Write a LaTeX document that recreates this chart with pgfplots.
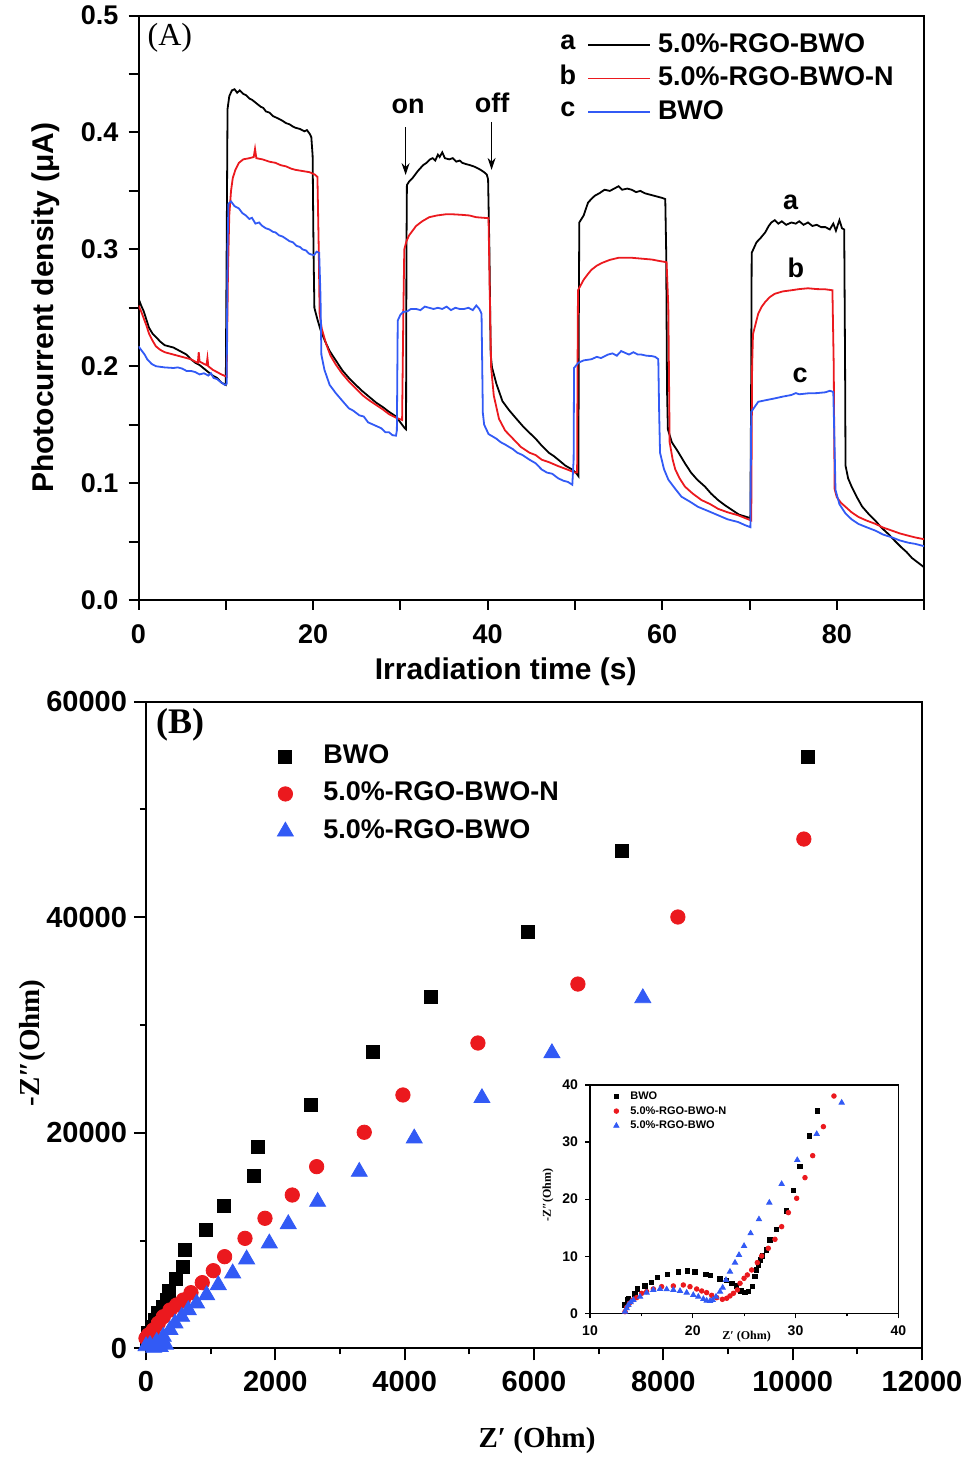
\documentclass[border=0pt]{standalone}
\usepackage{pgfplots}
\pgfplotsset{compat=1.18}
\usetikzlibrary{arrows.meta}
\usepackage{fontspec}
\setmainfont{Liberation Sans}
\newfontfamily\tnr{Liberation Serif}
\definecolor{cred}{RGB}{235,25,30}
\definecolor{cblue}{RGB}{50,90,245}
\newcommand{\fs}[1]{\fontsize{#1}{#1}\selectfont}
\pgfplotsset{
 legB/.style={legend image code/.code={\path[draw=none,fill=none] (0pt,-2pt) rectangle (16pt,2pt); \draw[##1] plot coordinates {(8pt,0pt)};}},
 legI/.style={legend image code/.code={\path[draw=none,fill=none] (0pt,-1pt) rectangle (5pt,1pt); \draw[##1] plot coordinates {(2.5pt,0pt)};}},
}
\begin{document}
\begin{tikzpicture}
\path[use as bounding box] (0pt,0pt) rectangle (481.5pt,732pt);
% ---------------- Panel A ----------------
\begin{axis}[
 at={(69.25pt,432pt)}, anchor=south west, scale only axis,
 width=392.8pt, height=292.2pt,
 xmin=0, xmax=90, ymin=0, ymax=0.5,
 axis line style={line width=1pt},
 tick align=outside, tick pos=left,
 major tick length=5pt, tick style={line width=1pt, black},
 xtick={0,10,...,90}, xticklabels={0,,20,,40,,60,,80,},
 ytick={0,0.05,0.1,0.15,0.2,0.25,0.3,0.35,0.4,0.45,0.5},
 yticklabels={0.0,,0.1,,0.2,,0.3,,0.4,,0.5},
 ticklabel style={font=\bfseries\fs{13.5}},
 xticklabel style={yshift=-4pt},
 yticklabel style={xshift=-1.5pt},
 xlabel={Irradiation time (s)}, ylabel={Photocurrent density (μA)},
 label style={font=\bfseries\fs{15}},
 xlabel style={at={(axis description cs:0.4675,-0.123)},anchor=center},
 ylabel style={at={(axis description cs:-0.118,0.5)},anchor=center},
 legend image code/.code={\draw[#1] (0pt,0pt) -- (31pt,0pt);},
 legend cell align=left,
 legend style={at={(axis cs:51.36,0.4854)}, anchor=north west, draw=none, fill=none,
   font=\bfseries\fs{13.5}, inner sep=0pt, row sep=4.75pt,
   nodes={inner sep=0pt, text height=9.5pt, text depth=2.5pt},
   /tikz/every odd column/.append style={column sep=3.5pt}},
]
\addplot[black, line width=0.9pt] coordinates {
(0,0.258)(0.3,0.252)(0.6,0.247)(0.9,0.240)(1.2,0.233)(1.6,0.228)(2.0,0.225)(2.5,0.221)(3.0,0.218)(3.5,0.217)(4.0,0.216)(4.5,0.214)(5.0,0.212)(5.5,0.210)(6.0,0.206)(6.5,0.203)(7.0,0.201)(7.5,0.198)(8.0,0.195)(8.5,0.192)(9.0,0.190)(9.5,0.186)(10.0,0.184)
(10.1,0.30)(10.2,0.42)(10.4,0.431)(10.7,0.436)(11.0,0.437)(11.3,0.434)(11.6,0.436)(12.0,0.433)(12.3,0.432)(12.7,0.429)(13.0,0.428)(13.5,0.425)(14.0,0.422)(14.3,0.421)(14.6,0.418)(15.0,0.417)(15.4,0.414)(15.7,0.413)(16.0,0.412)(16.5,0.410)(16.9,0.408)(17.3,0.407)(17.7,0.405)(18.0,0.404)(18.5,0.403)(19.0,0.401)(19.3,0.402)(19.6,0.399)(19.8,0.396)
(19.95,0.38)(20.05,0.30)(20.15,0.250)(20.5,0.240)(20.9,0.230)(21.4,0.221)(21.9,0.213)(22.6,0.205)(23.4,0.196)(24.1,0.190)(24.9,0.184)(25.6,0.179)(26.4,0.174)(27.2,0.169)(28.0,0.165)(28.7,0.161)(29.5,0.157)(30.0,0.152)(30.5,0.147)(30.65,0.146)
(30.7,0.30)(30.75,0.355)(31.0,0.358)(31.4,0.361)(32.0,0.367)(32.6,0.372)(33.0,0.374)(33.4,0.377)(33.7,0.378)(34.0,0.376)(34.3,0.381)(34.5,0.379)(34.8,0.383)(35.1,0.378)(35.6,0.377)(36.0,0.378)(36.4,0.375)(36.8,0.376)(37.1,0.374)(37.5,0.373)(38.0,0.372)(38.4,0.371)(38.7,0.370)(39.2,0.368)(39.6,0.366)(39.9,0.364)
(40.05,0.36)(40.2,0.30)(40.35,0.21)(40.5,0.199)(41.0,0.185)(41.7,0.170)(42.5,0.162)(43.3,0.155)(44.0,0.149)(44.8,0.143)(45.5,0.138)(46.2,0.132)(47.0,0.126)(47.6,0.123)(48.1,0.120)(48.9,0.115)(49.6,0.112)(50.1,0.109)(50.4,0.106)
(50.45,0.25)(50.5,0.323)(51.0,0.329)(51.5,0.340)(52.0,0.344)(52.3,0.346)(52.8,0.348)(53.4,0.351)(54.0,0.350)(54.5,0.352)(55.0,0.354)(55.4,0.351)(56.0,0.352)(56.5,0.351)(57.0,0.349)(57.5,0.350)(58.0,0.348)(58.5,0.347)(59.0,0.346)(59.5,0.345)(60.0,0.344)(60.35,0.343)
(60.45,0.30)(60.55,0.18)(60.65,0.146)(61.1,0.135)(61.8,0.127)(62.6,0.117)(63.3,0.109)(64.0,0.103)(64.9,0.097)(65.6,0.091)(66.4,0.0855)(67.2,0.081)(68.0,0.077)(68.8,0.073)(69.7,0.071)(70.1,0.070)
(70.2,0.20)(70.25,0.297)(70.8,0.306)(71.3,0.310)(71.8,0.3145)(72.2,0.320)(72.5,0.323)(72.9,0.325)(73.3,0.322)(73.7,0.324)(74.2,0.321)(74.8,0.323)(75.3,0.322)(75.7,0.324)(76.2,0.321)(76.7,0.323)(77.2,0.320)(77.7,0.321)(78.2,0.319)(78.7,0.319)(79.2,0.317)(79.6,0.322)(79.9,0.316)(80.3,0.325)(80.6,0.318)(80.85,0.317)
(80.95,0.20)(81.0,0.115)(81.3,0.104)(81.7,0.097)(82.3,0.088)(82.9,0.080)(83.6,0.074)(84.4,0.068)(85.1,0.062)(85.9,0.0565)(86.6,0.051)(87.4,0.045)(88.0,0.041)(88.6,0.036)(89.3,0.032)(90.0,0.028)
};
\addlegendentry{5.0\%-RGO-BWO}
\addplot[cred, line width=0.9pt] coordinates {
(0,0.252)(0.3,0.247)(0.6,0.241)(0.9,0.235)(1.2,0.228)(1.6,0.222)(2.0,0.217)(2.5,0.214)(3.0,0.212)(3.5,0.211)(4.0,0.210)(4.5,0.209)(5.0,0.208)(5.5,0.207)(6.0,0.206)(6.5,0.204)(6.8,0.203)(6.9,0.212)(7.0,0.204)(7.5,0.202)(7.8,0.201)(7.9,0.207)(8.0,0.200)(8.5,0.197)(9.0,0.195)(9.5,0.193)(10.1,0.191)
(10.25,0.28)(10.4,0.329)(10.6,0.350)(10.8,0.361)(11.1,0.368)(11.5,0.374)(12.0,0.377)(12.7,0.378)(13.2,0.379)(13.35,0.386)(13.5,0.378)(14.2,0.377)(15.0,0.375)(15.7,0.374)(16.3,0.372)(16.9,0.371)(17.5,0.369)(18.0,0.368)(18.8,0.367)(19.6,0.366)(20.2,0.364)(20.5,0.362)
(20.65,0.30)(20.75,0.245)(21.0,0.232)(21.5,0.219)(22.0,0.209)(22.6,0.2015)(23.3,0.194)(24.1,0.187)(24.9,0.181)(25.7,0.175)(26.4,0.171)(27.2,0.167)(28.0,0.163)(28.7,0.159)(29.5,0.156)(30.2,0.154)
(30.35,0.25)(30.45,0.300)(30.7,0.307)(31.0,0.312)(31.4,0.316)(31.8,0.320)(32.5,0.324)(33.3,0.3275)(34.2,0.329)(35.2,0.330)(36.0,0.330)(37.1,0.3295)(37.9,0.329)(38.7,0.3275)(39.5,0.327)(40.1,0.3267)
(40.25,0.26)(40.4,0.199)(40.7,0.175)(41.3,0.155)(42.0,0.145)(42.9,0.138)(43.8,0.131)(44.8,0.126)(45.5,0.124)(46.2,0.120)(47.0,0.118)(48.1,0.1145)(49.0,0.112)(50.0,0.109)(50.25,0.109)
(50.3,0.20)(50.35,0.265)(51.0,0.274)(51.5,0.279)(51.9,0.2826)(52.5,0.286)(53.1,0.2884)(54.0,0.291)(55.0,0.2928)(56.5,0.2928)(57.7,0.292)(58.8,0.2913)(59.7,0.290)(60.5,0.289)
(60.7,0.25)(60.85,0.135)(61.2,0.120)(61.5,0.1116)(62.0,0.104)(62.6,0.097)(63.5,0.091)(64.5,0.0855)(65.5,0.082)(66.4,0.078)(67.5,0.075)(68.7,0.0725)(70.2,0.068)
(70.3,0.20)(70.4,0.2275)(71.0,0.245)(71.4,0.251)(71.8,0.255)(72.3,0.259)(72.9,0.262)(73.8,0.264)(74.8,0.265)(75.7,0.266)(76.7,0.2667)(77.7,0.266)(78.7,0.2658)(79.5,0.265)
(79.65,0.20)(79.75,0.095)(80.0,0.088)(80.5,0.083)(81.0,0.0797)(81.7,0.075)(82.5,0.071)(83.4,0.068)(84.4,0.0652)(85.3,0.062)(86.3,0.0594)(87.2,0.057)(88.2,0.055)(89.0,0.0535)(90.0,0.052)
};
\addlegendentry{5.0\%-RGO-BWO-N}
\addplot[cblue, line width=0.9pt] coordinates {
(0,0.217)(0.3,0.214)(0.7,0.210)(1.0,0.206)(1.5,0.202)(2.0,0.200)(3.0,0.199)(4.0,0.1985)(4.5,0.199)(5.0,0.198)(5.5,0.196)(6.0,0.196)(6.5,0.195)(7.0,0.193)(7.5,0.194)(8.0,0.192)(8.3,0.194)(8.6,0.190)(9.0,0.189)(9.5,0.186)(9.9,0.184)(10.1,0.185)
(10.2,0.30)(10.3,0.339)(10.6,0.341)(11.0,0.337)(11.5,0.335)(11.9,0.331)(12.3,0.329)(12.7,0.326)(13.0,0.327)(13.4,0.322)(13.8,0.323)(14.2,0.320)(14.6,0.318)(15.0,0.317)(15.4,0.315)(15.7,0.3145)(16.1,0.312)(16.5,0.311)(16.9,0.309)(17.3,0.307)(17.7,0.306)(18.1,0.303)(18.5,0.302)(18.8,0.300)(19.2,0.299)(19.5,0.2965)(19.75,0.2957)(20.1,0.295)(20.4,0.298)(20.7,0.297)
(20.85,0.26)(20.95,0.210)(21.3,0.197)(21.9,0.184)(22.6,0.177)(23.4,0.170)(24.1,0.164)(24.6,0.162)(25.3,0.158)(25.8,0.157)(26.3,0.152)(27.2,0.149)(27.8,0.147)(28.3,0.1435)(28.7,0.1435)(29.1,0.141)(29.5,0.1406)(29.6,0.145)
(29.7,0.239)(30.0,0.244)(30.3,0.2464)(30.8,0.247)(31.2,0.249)(31.8,0.249)(32.3,0.248)(32.8,0.251)(33.3,0.250)(33.8,0.249)(34.3,0.250)(34.8,0.249)(35.3,0.251)(35.8,0.248)(36.3,0.250)(36.8,0.249)(37.3,0.249)(37.8,0.250)(38.3,0.248)(38.7,0.252)(39.05,0.249)(39.3,0.245)
(39.45,0.16)(39.6,0.150)(40.1,0.142)(41.0,0.138)(41.5,0.135)(42.0,0.133)(42.9,0.129)(43.4,0.126)(44.0,0.124)(44.8,0.120)(45.5,0.117)(46.2,0.1116)(46.8,0.109)(47.4,0.108)(48.1,0.104)(48.7,0.102)(49.2,0.101)(49.7,0.0986)
(49.85,0.12)(49.9,0.1986)(50.4,0.203)(51.0,0.205)(51.9,0.206)(52.5,0.208)(53.0,0.207)(53.8,0.210)(54.3,0.211)(54.8,0.209)(55.3,0.213)(55.7,0.2116)(56.2,0.210)(56.7,0.212)(57.2,0.210)(57.6,0.210)(58.2,0.209)(58.8,0.2087)(59.2,0.208)(59.55,0.206)
(59.65,0.16)(59.75,0.126)(60.2,0.112)(60.7,0.103)(61.4,0.096)(62.2,0.0884)(63.2,0.084)(64.1,0.0797)(65.3,0.076)(66.4,0.0725)(67.5,0.069)(68.7,0.0667)(69.5,0.064)(70.1,0.0623)
(70.2,0.161)(71.0,0.1696)(71.9,0.171)(72.9,0.1725)(73.8,0.174)(74.8,0.1754)(75.3,0.177)(75.7,0.176)(76.7,0.1768)(77.7,0.177)(78.7,0.1777)(79.2,0.179)(79.6,0.178)
(79.75,0.13)(79.85,0.0942)(80.3,0.082)(81.0,0.074)(81.7,0.069)(82.5,0.065)(83.5,0.062)(84.4,0.0594)(85.3,0.056)(86.3,0.0536)(87.2,0.051)(88.2,0.049)(89.0,0.048)(90.0,0.046)
};
\addlegendentry{BWO}
\node[font=\tnr\fs{16}] at (axis cs:3.6,0.4808) {(A)};
\node[font=\bfseries\fs{13.5}] at (axis cs:49.2,0.4774) {a};
\node[font=\bfseries\fs{13.5}] at (axis cs:49.2,0.4492) {b};
\node[font=\bfseries\fs{13.5}] at (axis cs:49.2,0.4201) {c};
\node[font=\bfseries\fs{13.5}] at (axis cs:30.9,0.4226) {on};
\node[font=\bfseries\fs{13.5}] at (axis cs:40.5,0.425) {off};
\draw[-{Stealth[length=6pt,width=4pt]}, line width=0.6pt] (axis cs:30.6,0.4046) -- (axis cs:30.6,0.3636);
\draw[-{Stealth[length=6pt,width=4pt]}, line width=0.6pt] (axis cs:40.45,0.409) -- (axis cs:40.45,0.368);
\node[font=\bfseries\fs{13.5}] at (axis cs:74.7,0.3405) {a};
\node[font=\bfseries\fs{13.5}] at (axis cs:75.3,0.284) {b};
\node[font=\bfseries\fs{13.5}] at (axis cs:75.8,0.1925) {c};
\end{axis}
% ---------------- Panel B ----------------
\begin{axis}[
 at={(73pt,57.85pt)}, anchor=south west, scale only axis,
 width=388pt, height=323.4pt,
 xmin=0, xmax=12000, ymin=0, ymax=60000,
 scaled ticks=false,
 axis line style={line width=1pt},
 tick align=outside, tick pos=left,
 major tick length=6pt, minor tick length=3pt, tick style={line width=1pt, black},
 xtick={0,2000,4000,6000,8000,10000,12000}, xticklabels={0,2000,4000,6000,8000,10000,12000},
 ytick={0,20000,40000,60000}, yticklabels={0,20000,40000,60000},
 minor x tick num=1, minor y tick num=1,
 ticklabel style={font=\bfseries\fs{14.5}},
 xticklabel style={yshift=-2pt},
 xlabel={Z′ (Ohm)}, ylabel={-Z″(Ohm)},
 label style={font=\tnr\bfseries\fs{14.5}},
 xlabel style={at={(axis description cs:0.504,-0.142)},anchor=center},
 ylabel style={at={(axis description cs:-0.1456,0.472)},anchor=center},
 legend cell align=left,
 legend style={at={(axis cs:1902,56055)}, anchor=north west, draw=none, fill=none,
   font=\bfseries\fs{13.5}, inner sep=0pt, row sep=6.75pt,
   nodes={inner sep=0pt, text height=9.5pt, text depth=2.5pt},
   /tikz/every odd column/.append style={column sep=11pt}},
]
\addplot[only marks, mark=square*, mark size=3.25pt, black, mark options={draw=black, fill=black}, legB] coordinates {
(11,770)(36,1420)(88,2000)(139,2630)(186,3270)(263,3860)(325,4480)(356,5340)(459,6400)(572,7570)(603,9150)(928,10970)(1206,13200)(1670,15980)(1732,18700)(2551,22570)(3509,27480)(4406,32590)(5906,38620)(7359,46130)(10235,54850)
};
\addlegendentry{BWO}
\addplot[only marks, mark=*, mark size=3.6pt, cred, mark options={draw=cred, fill=cred}, legB] coordinates {
(0,930)(36,1230)(113,1700)(190,2320)(268,2930)(371,3550)(474,4020)(577,4480)(696,5160)(870,6090)(1041,7200)(1216,8500)(1531,10200)(1840,12060)(2262,14220)(2639,16850)(3375,20040)(3973,23500)(5133,28320)(6679,33790)(8225,40010)(10173,47240)
};
\addlegendentry{5.0\%-RGO-BWO-N}
\addplot[only marks, mark=triangle*, mark size=4.6pt, cblue, mark options={draw=cblue, fill=cblue}, legB] coordinates {
(0,200)(62,310)(120,60)(165,610)(220,130)(268,1080)(300,350)(371,1700)(448,2320)(552,2930)(654,3550)(783,4170)(938,4940)(1118,5870)(1340,6960)(1556,8260)(1907,9740)(2200,11530)(2654,13600)(3298,16380)(4148,19480)(5195,23220)(6277,27390)(7683,32490)
};
\addlegendentry{5.0\%-RGO-BWO}
\node[font=\tnr\bfseries\fs{18}] at (axis cs:526,57820) {(B)};
\end{axis}
% ---------------- Inset ----------------
\begin{axis}[
 at={(295pt,75.35pt)}, anchor=south west, scale only axis,
 width=154.15pt, height=114.15pt,
 xmin=10, xmax=40, ymin=0, ymax=40,
 axis background/.style={fill=white},
 axis line style={line width=0.6pt},
 tick align=outside, tick pos=left,
 major tick length=2.5pt, minor tick length=1.5pt, tick style={line width=0.6pt, black},
 xtick={10,20,30,40}, ytick={0,10,20,30,40},
 xticklabels={10,20,30,40}, yticklabels={0,10,20,30,40},
 minor x tick num=1,
 ticklabel style={font=\bfseries\fs{7}},
 xlabel={Z′ (Ohm)}, ylabel={-Z″(Ohm)},
 label style={font=\tnr\bfseries\fs{6}},
 xlabel style={at={(axis description cs:0.508,-0.1025)},anchor=center},
 ylabel style={at={(axis description cs:-0.136,0.518)},anchor=center},
 legend cell align=left,
 legend style={at={(axis cs:12.04,38.95)}, anchor=north west, draw=none, fill=none,
   font=\bfseries\fs{5.5}, inner sep=0pt, row sep=2.35pt,
   nodes={inner sep=0pt, text height=4pt, text depth=1pt},
   /tikz/every odd column/.append style={column sep=4.5pt}},
]
\addplot[only marks, mark=square*, mark size=1.1pt, black, legI] coordinates {
(13.41,1.46)(13.63,2.34)(13.73,2.63)(14.38,3.39)(14.61,4.26)(15.35,4.79)(16.00,5.43)(16.55,6.25)(17.56,6.77)(18.60,7.24)(19.50,7.42)(20.22,7.24)(21.26,6.83)(21.74,6.60)(22.65,6.01)(23.30,5.72)(23.79,5.26)(24.27,4.79)(24.69,3.91)(25.08,3.68)(25.41,3.80)(25.80,4.67)(26.06,6.42)(26.22,7.59)(26.38,8.47)(26.61,9.34)(26.80,10.04)(27.19,11.09)(27.52,12.85)(28.16,14.72)(29.14,17.93)(29.79,21.49)(30.43,25.69)(31.34,31.07)(32.15,35.45)
};
\addlegendentry{BWO}
\addplot[only marks, mark=*, mark size=1.15pt, cred, legI] coordinates {
(13.41,0.29)(13.57,1.05)(13.83,1.75)(14.15,2.34)(14.54,2.74)(15.03,3.50)(15.51,3.80)(16.16,4.26)(16.97,4.67)(18.11,4.79)(19.08,4.96)(19.73,4.67)(20.38,4.26)(20.87,3.91)(21.35,3.62)(21.84,3.15)(22.33,2.74)(22.88,2.45)(23.30,2.63)(23.62,3.04)(23.95,3.50)(24.34,4.09)(24.60,5.26)(24.99,6.13)(25.31,6.72)(25.73,7.59)(26.28,8.88)(26.70,10.04)(27.35,11.39)(28.00,12.96)(28.65,15.18)(29.30,17.64)(30.11,20.15)(30.92,23.77)(31.67,27.62)(32.71,32.70)(33.74,38.07)
};
\addlegendentry{5.0\%-RGO-BWO-N}
\addplot[only marks, mark=triangle*, mark size=1.5pt, cblue, legI] coordinates {
(13.41,0.29)(13.57,0.88)(13.73,1.46)(13.96,1.93)(14.22,2.34)(14.87,2.92)(15.51,3.62)(16.16,4.09)(16.81,4.26)(17.46,4.20)(18.11,4.09)(18.76,3.91)(19.41,3.62)(20.05,3.21)(20.54,2.92)(21.03,2.51)(21.35,2.22)(21.68,2.16)(21.94,2.34)(22.26,2.92)(22.65,3.80)(22.91,4.50)(23.23,5.84)(23.62,7.30)(24.11,8.88)(24.50,10.22)(24.99,11.80)(25.63,14.01)(26.44,16.47)(27.45,19.39)(28.65,22.66)(30.17,26.86)(32.06,31.42)(34.49,36.91)
};
\addlegendentry{5.0\%-RGO-BWO}
\end{axis}
\end{tikzpicture}
\end{document}
